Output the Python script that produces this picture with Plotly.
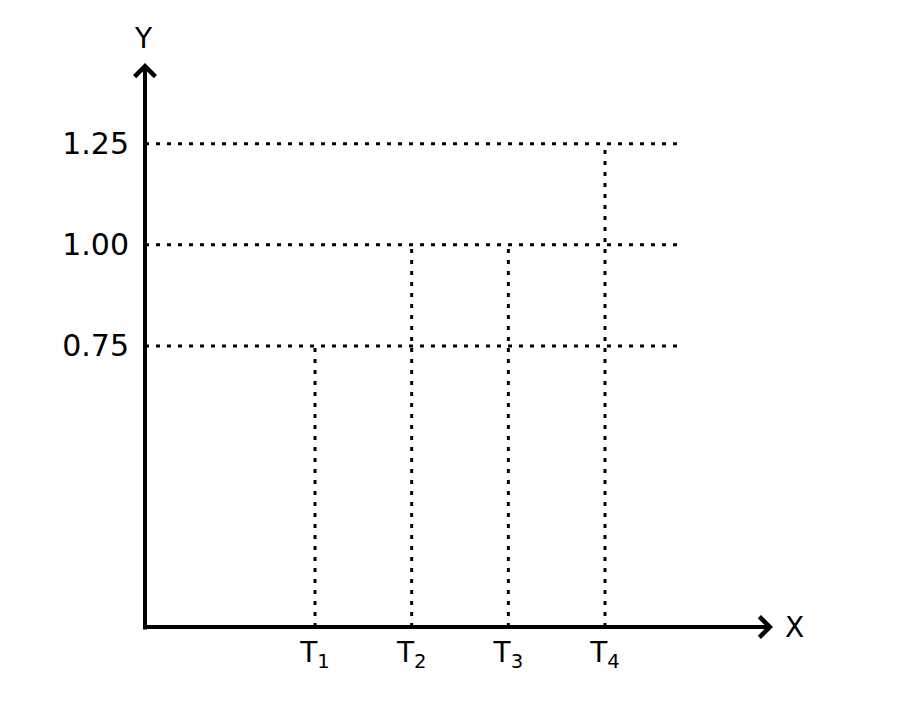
import plotly.graph_objects as go

# levels on the Y axis and the four instants on the X axis
y_levels = [0.75, 1.00, 1.25]
y_labels = ['0.75', '1.00', '1.25']
t_pos = [1, 2, 3, 4]
t_labels = ['T<sub>1</sub>', 'T<sub>2</sub>', 'T<sub>3</sub>', 'T<sub>4</sub>']
t_heights = [0.75, 1.00, 1.00, 1.25]

x_min, x_max = -0.759, 5.738
y_min, y_max = 0.0545, 1.45
h_end = 4.745   # where the dotted guides stop on the right

font = 'DejaVu Sans'
dot = dict(color='black', width=3, dash='4px,7px')

fig = go.Figure()

# horizontal dotted guides
for lev in y_levels:
    fig.add_trace(go.Scatter(x=[x_min, h_end], y=[lev, lev], mode='lines',
                             line=dot, hoverinfo='skip', showlegend=False))

# vertical dotted guides from the X axis up to each level
for t, h in zip(t_pos, t_heights):
    fig.add_trace(go.Scatter(x=[t, t], y=[0, h], mode='lines',
                             line=dot, hoverinfo='skip', showlegend=False))

# axes with arrow heads
fig.add_annotation(x=x_max, y=y_min, ax=x_min - 0.03, ay=y_min,
                   xref='x', yref='y', axref='x', ayref='y',
                   showarrow=True, arrowhead=4, arrowsize=1, arrowwidth=4,
                   arrowcolor='black', text='')
fig.add_annotation(x=x_min, y=y_max, ax=x_min, ay=y_min - 0.01,
                   xref='x', yref='y', axref='x', ayref='y',
                   showarrow=True, arrowhead=4, arrowsize=1, arrowwidth=4,
                   arrowcolor='black', text='')

# axis names
fig.add_annotation(x=-0.003, y=1.044, xref='paper', yref='paper',
                   xanchor='center', yanchor='middle',
                   text='Y', showarrow=False, font=dict(family=font, size=28, color='black'))
fig.add_annotation(x=1.035, y=0, xref='paper', yref='paper',
                   xanchor='center', yanchor='middle',
                   text='X', showarrow=False, font=dict(family=font, size=28, color='black'))

fig.update_xaxes(range=[x_min, x_max], tickvals=t_pos, ticktext=t_labels,
                 showgrid=False, zeroline=False, showline=False, ticks='',
                 ticklabelstandoff=6,
                 tickfont=dict(family=font, size=28, color='black'))
fig.update_yaxes(range=[y_min, y_max], tickvals=y_levels, ticktext=y_labels,
                 showgrid=False, zeroline=False, showline=False, ticks='',
                 ticklabelstandoff=15,
                 tickfont=dict(family=font, size=30, color='black'))

fig.update_layout(width=900, height=702,
                  margin=dict(l=137, r=135, t=55, b=83),
                  plot_bgcolor='white', paper_bgcolor='white')

fig.write_html('out.html')
